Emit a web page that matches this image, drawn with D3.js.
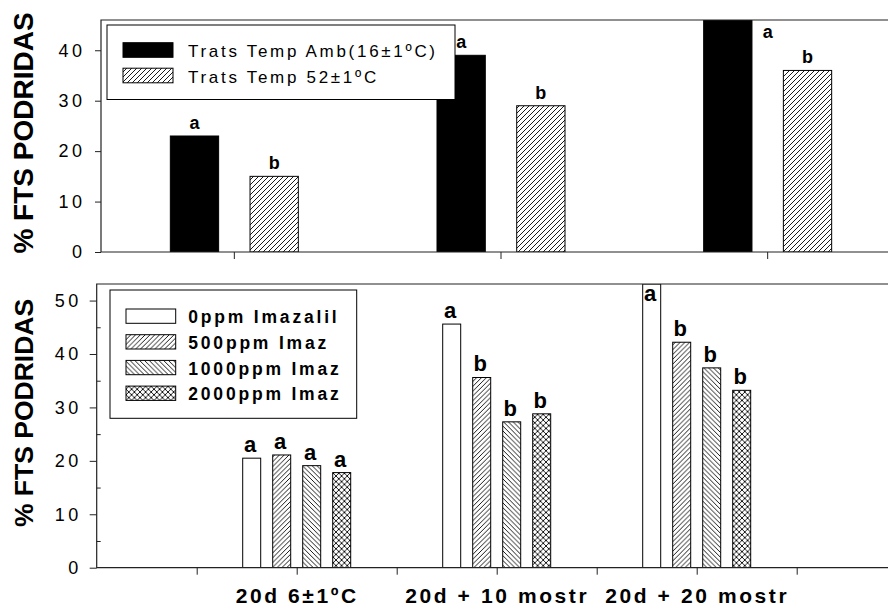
<!DOCTYPE html>
<html>
<head>
<meta charset="utf-8">
<script src="https://cdn.jsdelivr.net/npm/d3@7"></script>
<style>
  html, body { margin: 0; padding: 0; background: #fff; }
  svg { display: block; font-family: "Liberation Sans", Arial, sans-serif; }
</style>
</head>
<body>
<svg id="chart" width="888" height="609"></svg>
<script>
// ---- data ----
const groups = ["20d 6±1ºC", "20d + 10 mostr", "20d + 20 mostr"];

// upper panel: storage temperature treatments
const tempSeries = ["Trats Temp Amb(16±1ºC)", "Trats Temp 52±1ºC"];
const tempAmb = [23, 39, 46];
const temp52 = [15, 29, 36];
const tempAmbLetters = ["a", "a", "a"];
const temp52Letters = ["b", "b", "b"];
const tempTicks = [0, 10, 20, 30, 40];

// lower panel: imazalil doses
const imazSeries = ["0ppm Imazalil", "500ppm Imaz", "1000ppm Imaz", "2000ppm Imaz"];
const imaz0 = [20.5, 45.6, 53.1];
const imaz500 = [21.1, 35.6, 42.2];
const imaz1000 = [19.1, 27.3, 37.4];
const imaz2000 = [17.8, 28.8, 33.2];
const imaz0Letters = ["a", "a", "a"];
const imaz500Letters = ["a", "b", "b"];
const imaz1000Letters = ["a", "b", "b"];
const imaz2000Letters = ["a", "b", "b"];
const imazTicks = [0, 10, 20, 30, 40, 50];
const imazMinorTicks = [5, 15, 25, 35, 45];

const yTitle = "% FTS PODRIDAS";

// ---- layout ----
const svg = d3.select("#chart");
const defs = svg.append("defs");

function hatch(id, size, paths) {
  const p = defs.append("pattern")
    .attr("id", id).attr("patternUnits", "userSpaceOnUse")
    .attr("width", size).attr("height", size);
  p.append("rect").attr("width", size).attr("height", size).attr("fill", "#fff");
  paths.forEach(d => p.append("path").attr("d", d)
    .attr("stroke", "#000").attr("stroke-width", 0.9).attr("fill", "none"));
}
function fwd(s) { return `M0,${s}L${s},0M${-1},1L1,${-1}M${s-1},${s+1}L${s+1},${s-1}`; }
function back(s) { return `M0,0L${s},${s}M${-1},${s-1}L1,${s+1}M${s-1},${-1}L${s+1},1`; }
hatch("fwdTop", 5, [fwd(5)]);
hatch("fwdLow", 4.8, [fwd(4.8)]);
hatch("backLow", 4.8, [back(4.8)]);
hatch("crossLow", 5.6, [fwd(5.6), back(5.6)]);

const frameColor = "#222";

// ================= upper panel =================
const T = { left: 101, right: 901, top: 20, bottom: 252 };
const yT = d3.scaleLinear().domain([0, 46]).range([T.bottom, T.top]);
const x0T = d3.scaleBand().domain(groups).range([T.left, T.right]);
const x1T = d3.scaleBand().domain(tempSeries).range([-64, 64]).paddingInner(0.394);
const centerT = g => x0T(g) + x0T.bandwidth() / 2;

defs.append("clipPath").attr("id", "clipT").append("rect")
  .attr("x", T.left).attr("y", T.top)
  .attr("width", T.right - T.left).attr("height", T.bottom - T.top);

const gT = svg.append("g");
const tempData = [
  { s: tempSeries[0], vals: tempAmb, letters: tempAmbLetters, fill: "#000" },
  { s: tempSeries[1], vals: temp52, letters: temp52Letters, fill: "url(#fwdTop)" }
];
const barsT = gT.append("g").attr("clip-path", "url(#clipT)");
tempData.forEach(sd => {
  barsT.selectAll(null).data(groups).join("rect")
    .attr("x", g => centerT(g) + x1T(sd.s))
    .attr("width", x1T.bandwidth())
    .attr("y", (g, i) => yT(sd.vals[i]))
    .attr("height", (g, i) => yT(0) - yT(sd.vals[i]))
    .attr("fill", sd.fill)
    .attr("stroke", "#000").attr("stroke-width", 1);
});
// significance letters
const maxT = yT.domain()[1];
tempData.forEach(sd => {
  gT.selectAll(null).data(groups).join("text")
    .attr("x", (g, i) => sd.vals[i] >= maxT ? centerT(g) : centerT(g) + x1T(sd.s) + x1T.bandwidth() / 2)
    .attr("y", (g, i) => sd.vals[i] >= maxT ? T.top + 18 : yT(sd.vals[i]) - 7)
    .attr("text-anchor", "middle")
    .attr("font-size", 18).attr("font-weight", "bold")
    .text((g, i) => sd.letters[i]);
});

// frame
gT.append("path")
  .attr("d", `M${T.right},${T.top}H${T.left}V${T.bottom}H${T.right}`)
  .attr("fill", "none").attr("stroke", frameColor).attr("stroke-width", 1.2);

// y axis
const axYT = gT.append("g").attr("transform", `translate(${T.left},0)`)
  .call(d3.axisLeft(yT).tickValues(tempTicks).tickSize(6).tickPadding(9.5));
axYT.select(".domain").remove();
axYT.selectAll("line").attr("stroke", frameColor);
axYT.selectAll("text").attr("font-size", 18).attr("letter-spacing", "3.5px")
  .attr("fill", "#000").attr("font-family", "Liberation Sans, Arial, sans-serif");

// x axis ticks at group centers
const axXT = gT.append("g").attr("transform", `translate(0,${T.bottom})`)
  .call(d3.axisBottom(x0T).tickSize(7).tickFormat(""));
axXT.select(".domain").remove();
axXT.selectAll("line").attr("stroke", frameColor);

// y title
gT.append("text")
  .attr("transform", `translate(33,133) rotate(-90)`)
  .attr("text-anchor", "middle")
  .attr("font-size", 28).attr("font-weight", "bold")
  .text(yTitle);

// legend
const legT = gT.append("g");
legT.append("rect").attr("x", 107).attr("y", 25).attr("width", 348).attr("height", 74.5)
  .attr("fill", "#fff").attr("stroke", "#000").attr("stroke-width", 1);
tempData.forEach((sd, i) => {
  legT.append("rect").attr("x", 123).attr("y", 42.7 + i * 25.5)
    .attr("width", 50).attr("height", 14.6)
    .attr("fill", sd.fill).attr("stroke", "#000").attr("stroke-width", 1);
  legT.append("text").attr("x", 188).attr("y", 57.3 + i * 25.7)
    .attr("font-size", 17).attr("letter-spacing", "2.7px")
    .text(sd.s);
});

// ================= lower panel =================
const B = { left: 96.7, right: 896.7, top: 284, bottom: 567.7 };
const yB = d3.scaleLinear().domain([0, 53.1]).range([B.bottom, B.top]);
const xB = d3.scaleLinear().domain([0, 8]).range([B.left, B.right]);
const gPos = d3.scalePoint().domain(groups).range([xB(2), xB(6)]);
const x1B = d3.scaleBand().domain(imazSeries).range([-54, 54]).paddingInner(0.4);

defs.append("clipPath").attr("id", "clipB").append("rect")
  .attr("x", B.left).attr("y", B.top)
  .attr("width", B.right - B.left).attr("height", B.bottom - B.top);

const gB = svg.append("g");
const imazData = [
  { s: imazSeries[0], vals: imaz0, letters: imaz0Letters, fill: "#fff" },
  { s: imazSeries[1], vals: imaz500, letters: imaz500Letters, fill: "url(#fwdLow)" },
  { s: imazSeries[2], vals: imaz1000, letters: imaz1000Letters, fill: "url(#backLow)" },
  { s: imazSeries[3], vals: imaz2000, letters: imaz2000Letters, fill: "url(#crossLow)" }
];
const barsB = gB.append("g").attr("clip-path", "url(#clipB)");
imazData.forEach(sd => {
  barsB.selectAll(null).data(groups).join("rect")
    .attr("x", g => gPos(g) + x1B(sd.s))
    .attr("width", x1B.bandwidth())
    .attr("y", (g, i) => yB(sd.vals[i]))
    .attr("height", (g, i) => yB(0) - yB(sd.vals[i]))
    .attr("fill", sd.fill)
    .attr("stroke", "#000").attr("stroke-width", 1);
});
const maxB = yB.domain()[1];
imazData.forEach(sd => {
  gB.selectAll(null).data(groups).join("text")
    .attr("x", g => gPos(g) + x1B(sd.s) + x1B.bandwidth() / 2 - 1.5)
    .attr("y", (g, i) => sd.vals[i] >= maxB ? B.top + 16.5 : yB(sd.vals[i]) - 6)
    .attr("text-anchor", "middle")
    .attr("font-size", 22).attr("font-weight", "bold")
    .text((g, i) => sd.letters[i]);
});

// frame
gB.append("path")
  .attr("d", `M${B.right},${B.top}H${B.left}V${B.bottom}H${B.right}`)
  .attr("fill", "none").attr("stroke", frameColor).attr("stroke-width", 1.2);

// y axis with inward minor ticks
const axYB = gB.append("g").attr("transform", `translate(${B.left},0)`)
  .call(d3.axisLeft(yB).tickValues(imazTicks).tickSize(7).tickPadding(8));
axYB.select(".domain").remove();
axYB.selectAll("line").attr("stroke", frameColor);
axYB.selectAll("text").attr("font-size", 18).attr("letter-spacing", "3.5px")
  .attr("fill", "#000").attr("font-family", "Liberation Sans, Arial, sans-serif");
const axYBm = gB.append("g").attr("transform", `translate(${B.left},0)`)
  .call(d3.axisRight(yB).tickValues(imazMinorTicks).tickSize(4).tickFormat(""));
axYBm.select(".domain").remove();
axYBm.selectAll("line").attr("stroke", frameColor);

// x axis ticks
const axXB = gB.append("g").attr("transform", `translate(0,${B.bottom})`)
  .call(d3.axisBottom(xB).tickValues(d3.range(1, 8)).tickSize(7).tickFormat(""));
axXB.select(".domain").remove();
axXB.selectAll("line").attr("stroke", frameColor);

// group labels
const axXBl = gB.append("g").attr("transform", `translate(0,${B.bottom})`)
  .call(d3.axisBottom(gPos).tickSize(0).tickPadding(20.6));
axXBl.select(".domain").remove();
axXBl.selectAll("text").attr("font-size", 21).attr("font-weight", "bold")
  .attr("letter-spacing", "2.6px").attr("fill", "#000")
  .attr("font-family", "Liberation Sans, Arial, sans-serif");

// y title
gB.append("text")
  .attr("transform", `translate(33,413) rotate(-90)`)
  .attr("text-anchor", "middle")
  .attr("font-size", 26.5).attr("font-weight", "bold")
  .text(yTitle);

// legend
const legB = gB.append("g");
legB.append("rect").attr("x", 110).attr("y", 290).attr("width", 246.7).attr("height", 128.3)
  .attr("fill", "#fff").attr("stroke", "#000").attr("stroke-width", 1);
imazData.forEach((sd, i) => {
  legB.append("rect").attr("x", 126).attr("y", 309 + i * 25.7)
    .attr("width", 49.7).attr("height", 14.3)
    .attr("fill", sd.fill).attr("stroke", "#000").attr("stroke-width", 1);
  legB.append("text").attr("x", 188.3).attr("y", 323.3 + i * 25.7)
    .attr("font-size", 17.5).attr("font-weight", "bold").attr("letter-spacing", "2.8px")
    .text(sd.s);
});
</script>
</body>
</html>
